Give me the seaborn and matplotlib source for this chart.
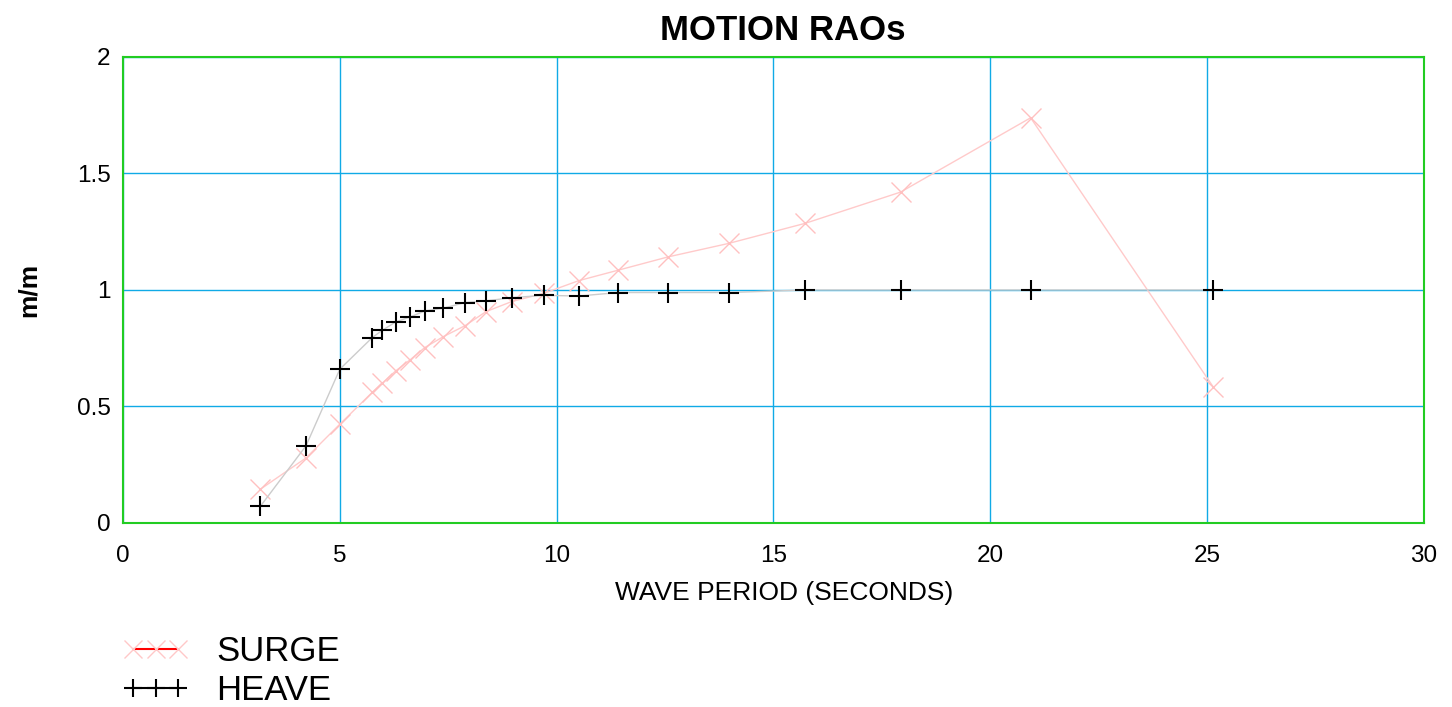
import numpy as np
import pandas as pd
import matplotlib
matplotlib.use("Agg")
import matplotlib.pyplot as plt
from matplotlib.lines import Line2D
import seaborn as sns

# wave periods (s)
period = [3.17, 4.22, 5.0, 5.75, 5.98, 6.29, 6.62, 6.96, 7.39, 7.89, 8.37,
          8.96, 9.71, 10.51, 11.42, 12.57, 13.97, 15.73, 17.93, 20.93, 25.14]
surge = [0.145, 0.279, 0.424, 0.561, 0.600, 0.653, 0.700, 0.753, 0.800, 0.847, 0.907,
         0.950, 0.986, 1.040, 1.085, 1.142, 1.200, 1.286, 1.420, 1.739, 0.584]
heave = [0.072, 0.331, 0.660, 0.796, 0.827, 0.863, 0.884, 0.910, 0.922, 0.946, 0.953,
         0.967, 0.977, 0.974, 0.989, 0.989, 0.989, 1.000, 1.000, 1.000, 1.000]

x_ticks = [0, 5, 10, 15, 20, 25, 30]
y_ticks = [0, 0.5, 1, 1.5, 2]
y_labels = ["0", "0.5", "1", "1.5", "2"]

sns.set_style("white")
plt.rcParams["font.family"] = ["Liberation Sans", "DejaVu Sans"]
plt.rcParams["text.color"] = "black"
plt.rcParams["axes.labelcolor"] = "black"
plt.rcParams["xtick.color"] = "black"
plt.rcParams["ytick.color"] = "black"

df = pd.DataFrame({"period": period, "surge": surge, "heave": heave})

fig = plt.figure(figsize=(14.52, 7.07), dpi=100)
ax = fig.add_axes([0.0847, 0.2603, 0.896, 0.6591])

grid_c = "#10aae6"
sns.lineplot(data=df, x="period", y="surge", ax=ax, color="#ffcaca", lw=1.0,
             marker="x", markersize=14, markeredgewidth=1.0,
             markeredgecolor="#ffc0c0", estimator=None, zorder=3)
sns.lineplot(data=df, x="period", y="heave", ax=ax, color="#cccccc", lw=1.0,
             marker="+", markersize=14, markeredgewidth=1.5,
             markeredgecolor="black", estimator=None, zorder=4)

ax.set_xlim(0, 30)
ax.set_ylim(0, 2)
ax.set_xticks(x_ticks)
ax.set_yticks(y_ticks)
ax.set_yticklabels(y_labels)
ax.tick_params(axis="both", length=0, labelsize=17.5)
ax.tick_params(axis="x", pad=16)
ax.tick_params(axis="y", pad=9)
ax.grid(True, color=grid_c, lw=1.0)
for s in ax.spines.values():
    s.set_visible(True)
    s.set_color("#22cc22")
    s.set_linewidth(1.5)

ax.set_title("MOTION RAOs", fontsize=25, fontweight="bold", pad=12, x=0.507)
ax.set_xlabel("WAVE PERIOD (SECONDS)", fontsize=19, labelpad=10, x=0.508)
ax.set_ylabel("m/m", fontsize=19, fontweight="bold", labelpad=26)

handles = [
    Line2D([], [], color="red", lw=1.5, marker="x", markersize=13,
           markeredgecolor="#ffc8c8", markeredgewidth=1.0),
    Line2D([], [], color="black", lw=1.5, marker="+", markersize=13,
           markeredgecolor="black", markeredgewidth=1.5),
]
fig.legend(handles, ["SURGE", "HEAVE"], loc="upper left",
           bbox_to_anchor=(0.075, 0.121), frameon=False, fontsize=25,
           numpoints=3, handlelength=1.9, handletextpad=0.8, labelspacing=0.16,
           borderaxespad=0, borderpad=0.4)

fig.savefig("out.png", dpi=100)
